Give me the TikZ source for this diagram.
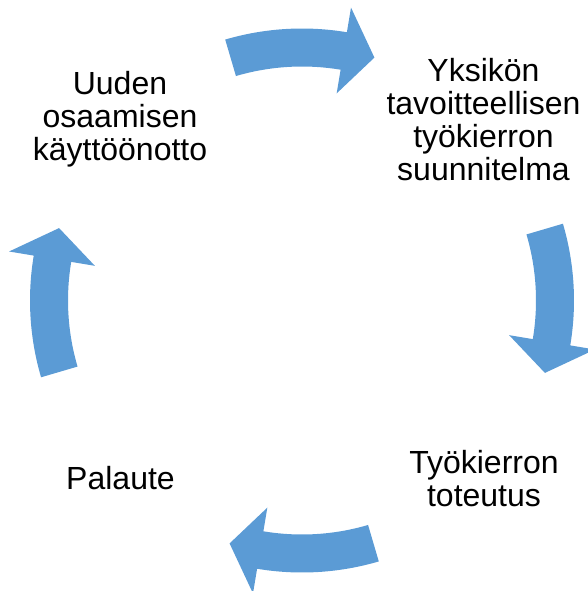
\documentclass[tikz,border=0pt]{standalone}
\usepackage{fontspec}
\setmainfont{Liberation Sans}
\usetikzlibrary{calc}
\definecolor{arrowblue}{HTML}{5B9BD5}
\newcommand\cyclearrowat[1]{%
  \fill[cyclearrow] ($(C)+(#1-16.4:272)$)
    arc[start angle=#1-16.4, end angle=#1+9.5, radius=272]
    -- ($(C)+(#1+9.5:297)$)
    -- ($(C)+(#1+16.6:253.5)$)
    -- ($(C)+(#1+9.5:210)$)
    -- ($(C)+(#1+9.5:234)$)
    arc[start angle=#1+9.5, end angle=#1-16.4, radius=234]
    -- cycle;}
\begin{document}
\begin{tikzpicture}[x=1pt,y=-1pt,
  cyclearrow/.style={fill=arrowblue, draw=none},
  txt/.style={align=center, inner sep=0pt, font=\fontsize{32}{33}\selectfont}]
\useasboundingbox (0,0) rectangle (588,591);
\clip (0,0) rectangle (588,591);
\coordinate (C) at (302,300.5);
\cyclearrowat{-90}
\cyclearrowat{0}
\cyclearrowat{90}
\cyclearrowat{180}
\node[txt] (plan) at (483.5,119.5) {Yksikön\\tavoitteellisen\\työkierron\\suunnitelma};
\node[txt] (impl) at (484,479) {Työkierron\\toteutus};
\node[txt] (fb) at (120.5,477.7) {Palaute};
\node[txt] (adopt) at (120,119.5) {Uuden\\osaamisen\\käyttöönotto};
\end{tikzpicture}
\end{document}
